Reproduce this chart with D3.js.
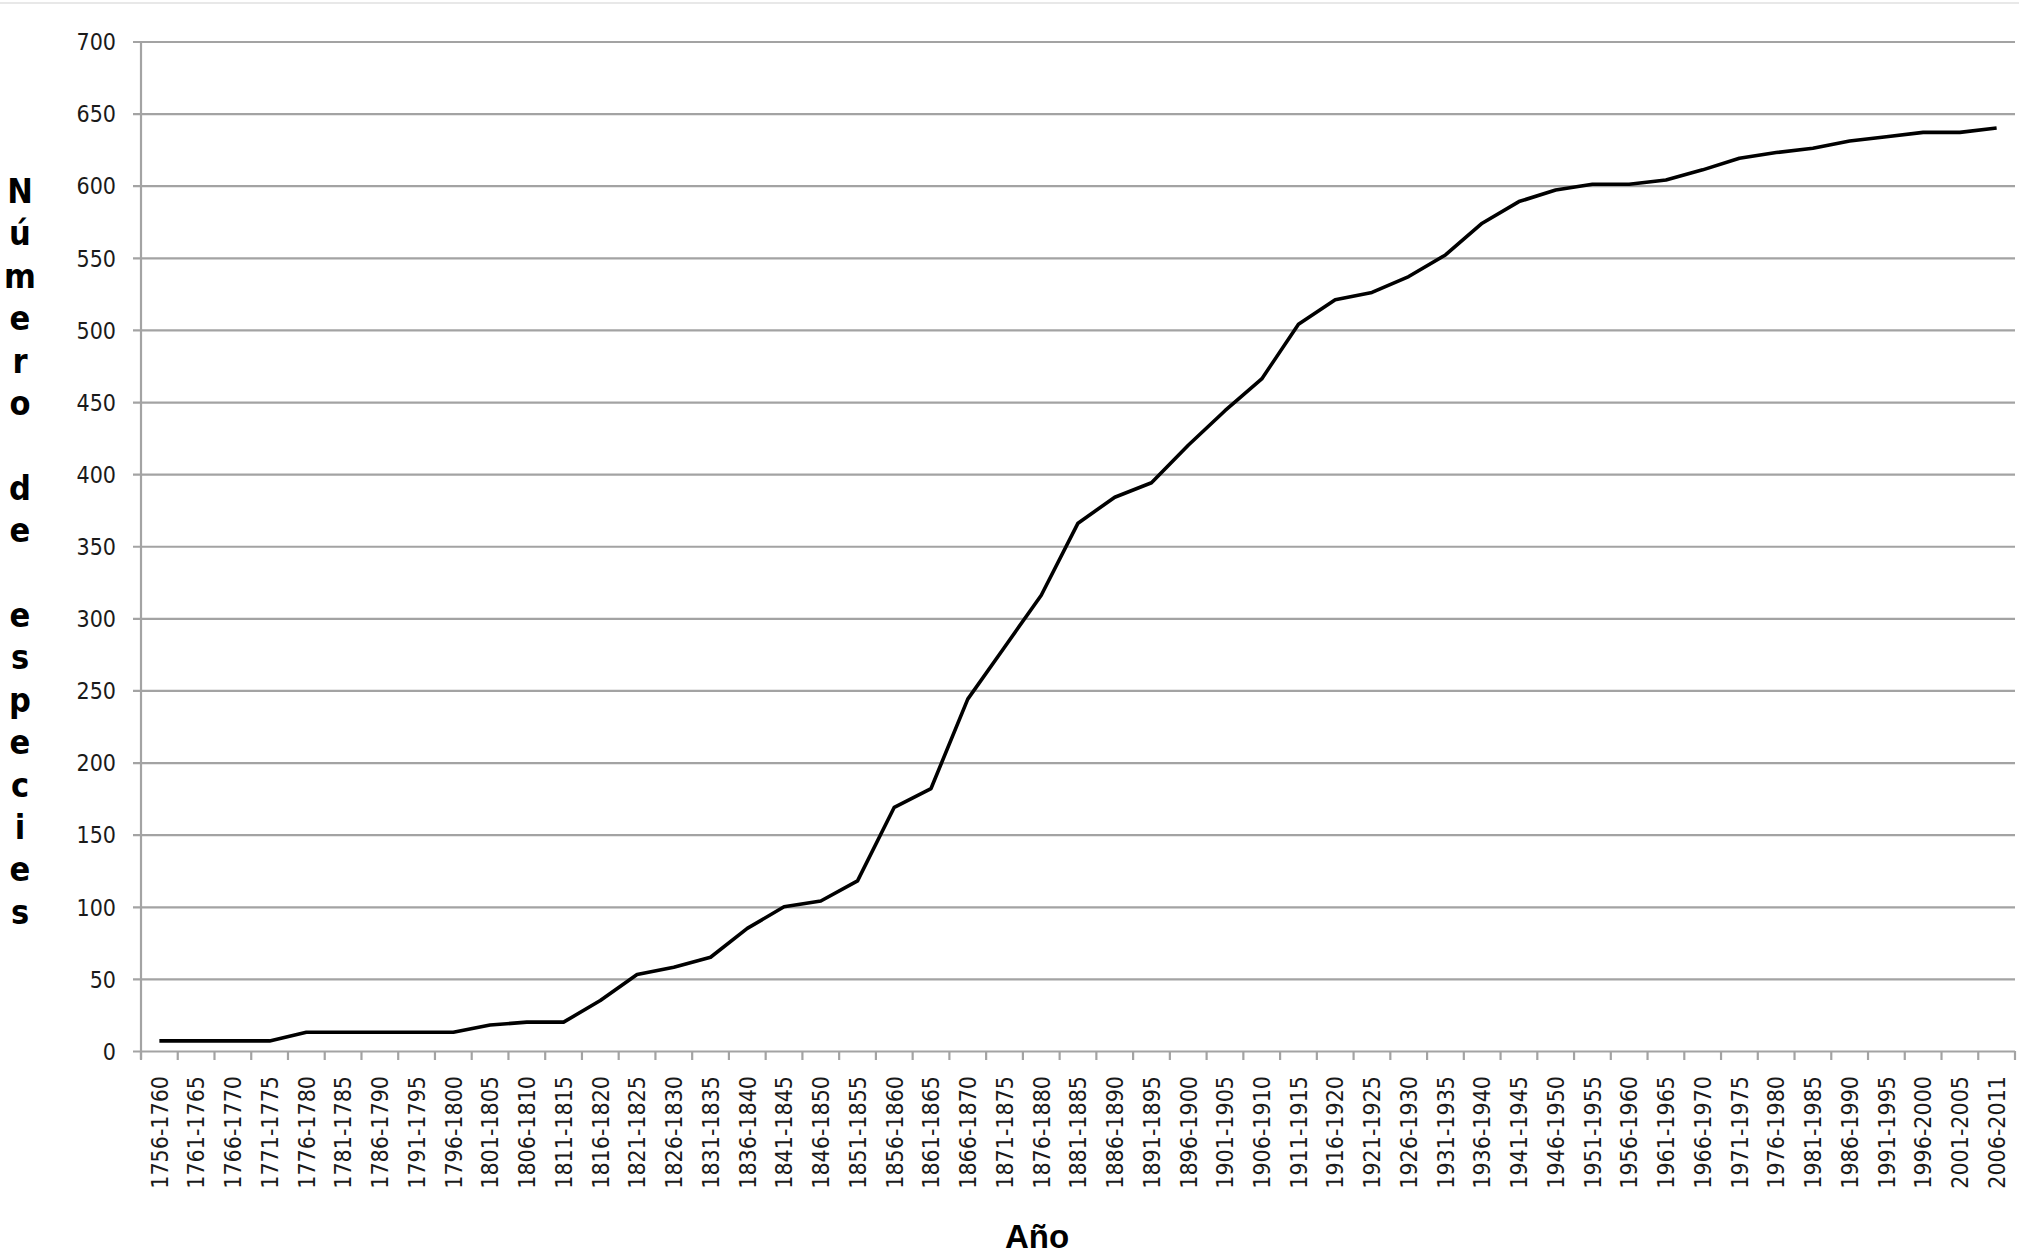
<!DOCTYPE html>
<html>
<head>
<meta charset="utf-8">
<script src="https://cdn.jsdelivr.net/npm/d3@7"></script>
<style>
  html, body { margin: 0; padding: 0; background: #fff; }
  svg { display: block; }
</style>
</head>
<body>
<svg id="chart" width="2019" height="1257"></svg>
<script>
// ---- data ----
const categories = [
  "1756-1760","1761-1765","1766-1770","1771-1775","1776-1780","1781-1785","1786-1790","1791-1795","1796-1800",
  "1801-1805","1806-1810","1811-1815","1816-1820","1821-1825","1826-1830","1831-1835","1836-1840","1841-1845",
  "1846-1850","1851-1855","1856-1860","1861-1865","1866-1870","1871-1875","1876-1880","1881-1885","1886-1890",
  "1891-1895","1896-1900","1901-1905","1906-1910","1911-1915","1916-1920","1921-1925","1926-1930","1931-1935",
  "1936-1940","1941-1945","1946-1950","1951-1955","1956-1960","1961-1965","1966-1970","1971-1975","1976-1980",
  "1981-1985","1986-1990","1991-1995","1996-2000","2001-2005","2006-2011"
];
const especies = [
  7, 7, 7, 7, 13, 13, 13, 13, 13,
  18, 20, 20, 35, 53, 58, 65, 85, 100,
  104, 118, 169, 182, 244, 280, 316, 366, 384,
  394, 420, 444, 466, 504, 521, 526, 537, 552,
  574, 589, 597, 601, 601, 604, 611, 619, 623,
  626, 631, 634, 637, 637, 640
];
const yTicks = [0, 50, 100, 150, 200, 250, 300, 350, 400, 450, 500, 550, 600, 650, 700];
const yTitle = "Número de especies";
const xTitle = "Año";

// ---- layout ----
const plotLeft = 141, plotRight = 2015, plotTop = 41.5, plotBottom = 1051;
const plotW = plotRight - plotLeft;
const gridColor = "#a3a3a3";
const tickFont = "'DejaVu Sans Condensed', 'DejaVu Sans', sans-serif";

const svg = d3.select("#chart");

// faint top border line
svg.append("line")
  .attr("x1", 0).attr("x2", 2019).attr("y1", 3).attr("y2", 3)
  .attr("stroke", "#e8e8e8").attr("stroke-width", 2);

const x = d3.scaleBand().domain(categories).range([plotLeft, plotRight]).padding(0);
const y = d3.scaleLinear().domain([0, 700]).range([plotBottom, plotTop]);

// y axis with gridlines
const gy = svg.append("g")
  .attr("transform", `translate(${plotLeft},0)`)
  .call(d3.axisLeft(y).tickValues(yTicks).tickSize(-plotW).tickPadding(0).tickFormat(d3.format("d")));
gy.select(".domain").remove();
gy.selectAll(".tick line")
  .attr("x1", -8)
  .attr("stroke", gridColor).attr("stroke-width", 2.2);
gy.selectAll(".tick text")
  .attr("x", -25)
  .attr("dy", "0.36em")
  .attr("fill", "#1a1a1a")
  .style("font-family", tickFont)
  .style("font-size", "23px");

// vertical axis line
svg.append("line")
  .attr("x1", plotLeft).attr("x2", plotLeft)
  .attr("y1", plotTop).attr("y2", plotBottom + 8)
  .attr("stroke", gridColor).attr("stroke-width", 2.2);

// x axis labels
const gx = svg.append("g")
  .attr("transform", `translate(0,${plotBottom})`)
  .call(d3.axisBottom(x).tickSize(0).tickPadding(0));
gx.select(".domain").remove();
gx.selectAll(".tick text")
  .attr("transform", "rotate(-90)")
  .attr("x", -25)
  .attr("y", 0)
  .attr("dy", "0.36em")
  .attr("text-anchor", "end")
  .attr("fill", "#1a1a1a")
  .style("font-family", tickFont)
  .style("font-size", "23px");

// x tick marks at category boundaries
const edges = categories.map(c => x(c)).concat([x(categories[categories.length - 1]) + x.bandwidth()]);
svg.append("g").selectAll("line.xt")
  .data(edges).join("line")
  .attr("class", "xt")
  .attr("x1", d => d).attr("x2", d => d)
  .attr("y1", plotBottom).attr("y2", plotBottom + 9)
  .attr("stroke", gridColor).attr("stroke-width", 2.2);

// data line
const line = d3.line()
  .x((d, i) => x(categories[i]) + x.bandwidth() / 2)
  .y(d => y(d));
svg.append("path")
  .datum(especies)
  .attr("d", line)
  .attr("fill", "none")
  .attr("stroke", "#000")
  .attr("stroke-width", 3.6)
  .attr("stroke-linejoin", "round");

// y title: one letter per line
const chars = yTitle.split("");
svg.append("g").selectAll("text")
  .data(chars.map((c, i) => ({c, i})).filter(d => d.c !== " "))
  .join("text")
  .attr("x", 20)
  .attr("y", d => 203 + d.i * 42.4)
  .attr("text-anchor", "middle")
  .style("font-family", "'DejaVu Sans Condensed', 'DejaVu Sans', sans-serif")
  .style("font-weight", "bold")
  .style("font-size", "34px")
  .attr("fill", "#000")
  .text(d => d.c);

// x title
svg.append("text")
  .attr("x", 1037)
  .attr("y", 1248)
  .attr("text-anchor", "middle")
  .style("font-family", "'Liberation Sans', Arial, sans-serif")
  .style("font-weight", "bold")
  .style("font-size", "33px")
  .attr("fill", "#000")
  .text(xTitle);
</script>
</body>
</html>
